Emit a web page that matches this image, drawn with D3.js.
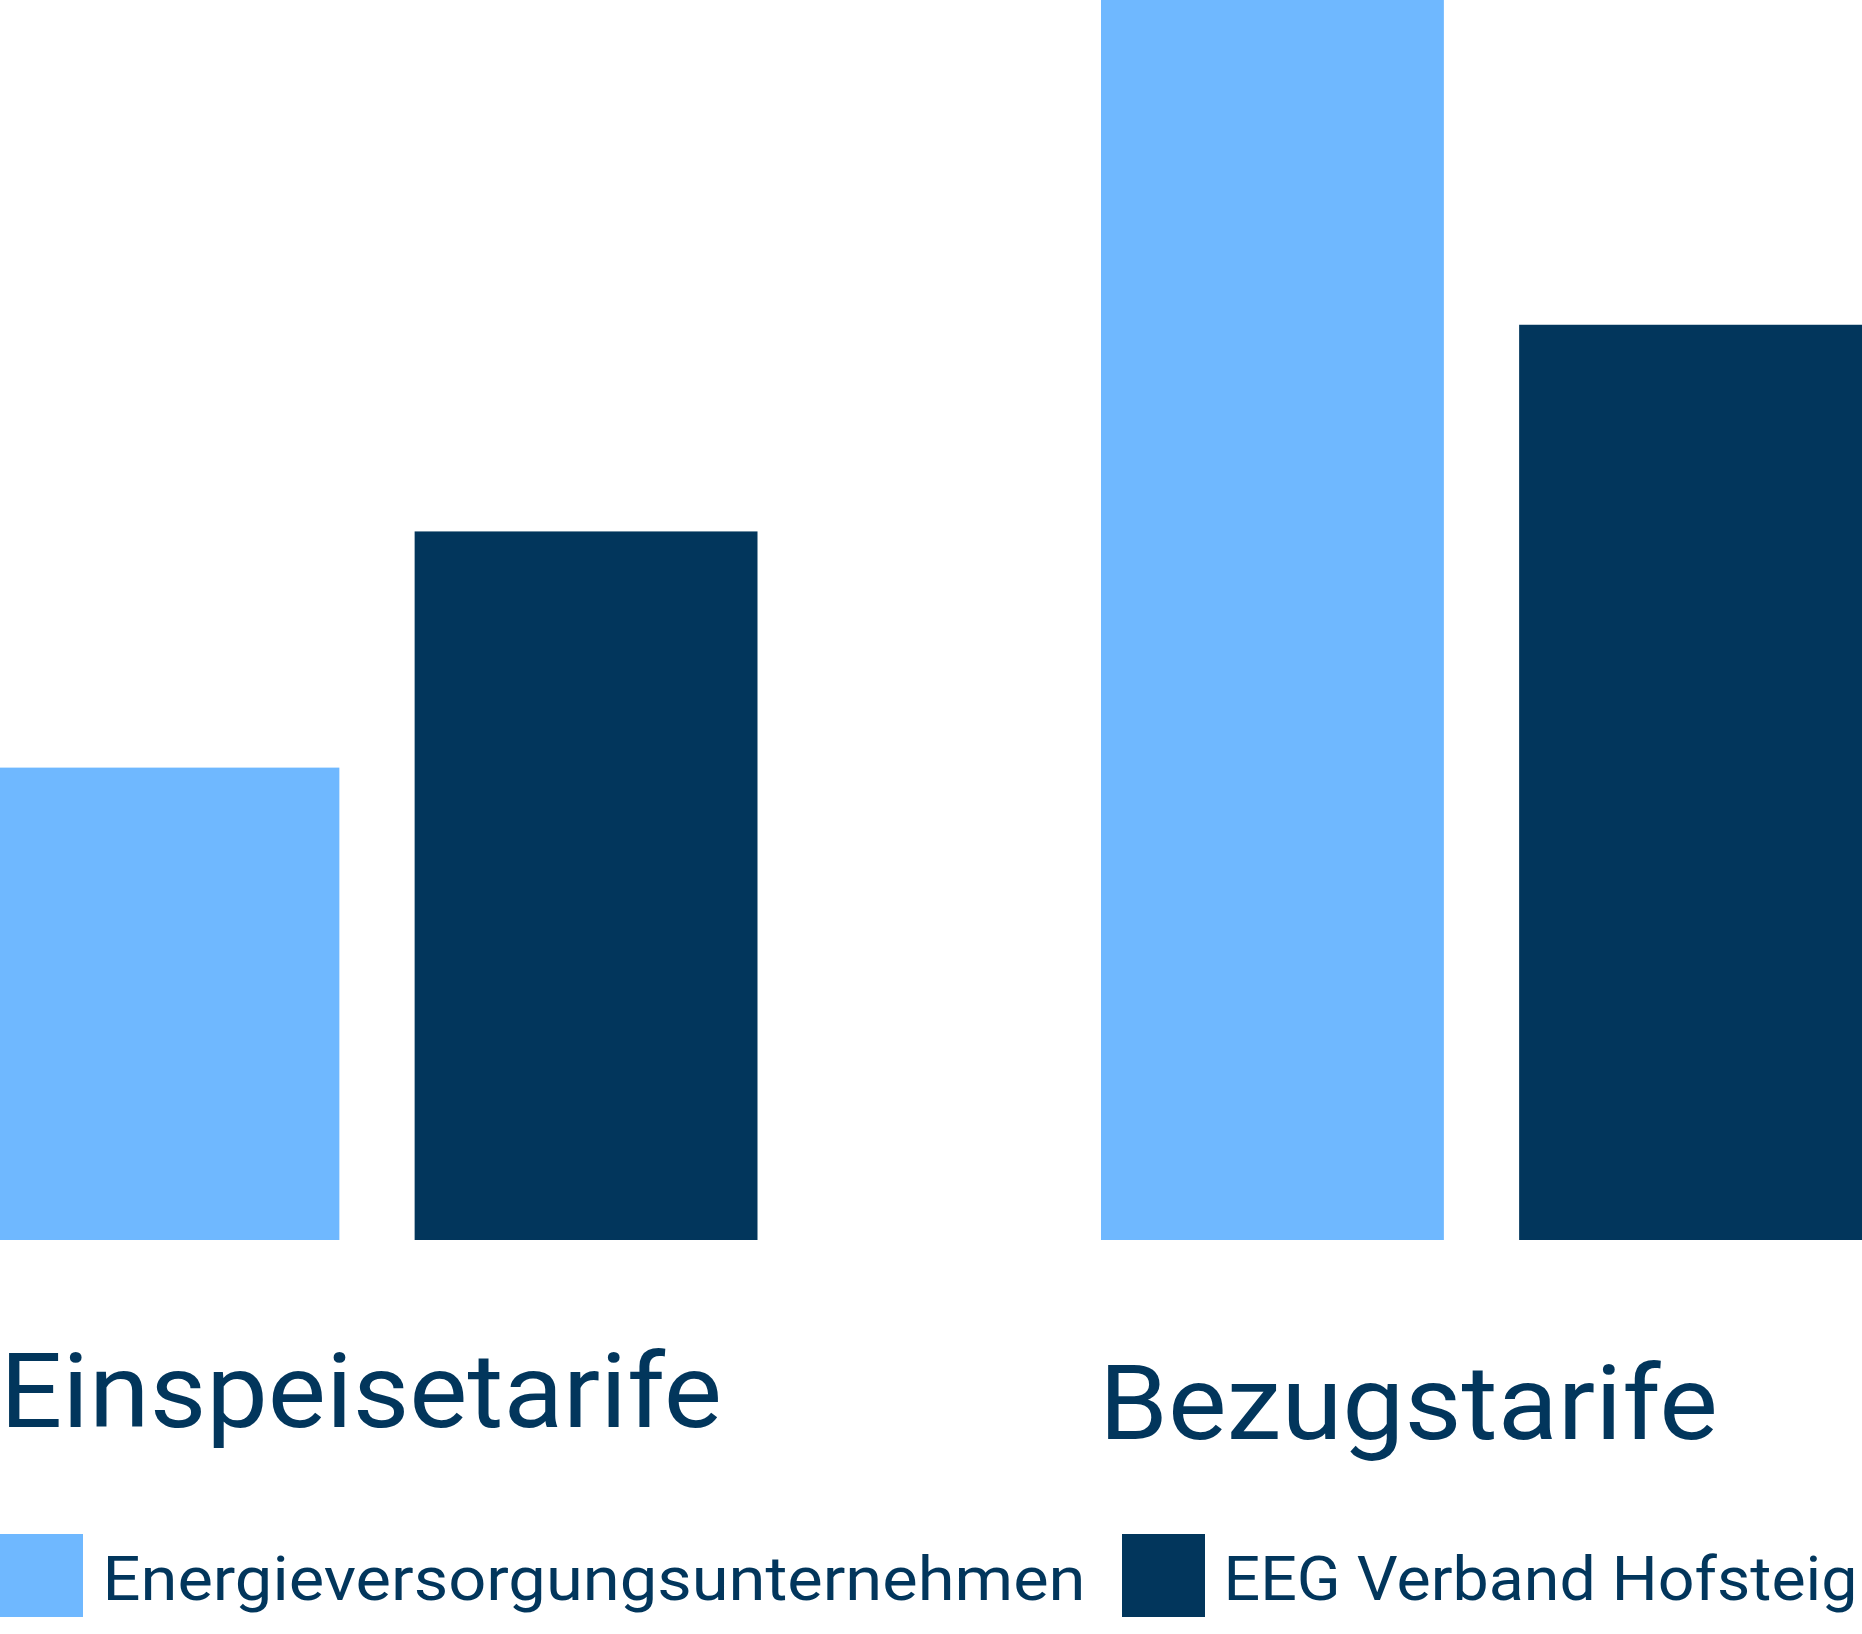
<!DOCTYPE html>
<html>
<head>
<meta charset="utf-8">
<script src="https://cdn.jsdelivr.net/npm/d3@7"></script>
<style>
    html, body { margin: 0; padding: 0; background: #fff; }
    svg { display: block; }
    text { font-family: Roboto, "Open Sans", sans-serif; fill: #02365c; }
</style>
</head>
<body>
<div id="chart"></div>
<script>
// data (ct/kWh)
const categories = [`Einspeisetarife`, `Bezugstarife`];
const seriesNames = [`Energieversorgungsunternehmen`, `EEG Verband Hofsteig`];
const evuValues = [8, 21];
const eegValues = [12, 15.5];
const maxValue = 21;

const colors = [`#6fb8ff`, `#02365c`];

const width = 1862, height = 1634;
const baseline = 1240;

const svg = d3.select(`#chart`).append(`svg`)
    .attr(`width`, width)
    .attr(`height`, height);

// the left bar bleeds a little past the edge in the original
const x0 = d3.scaleBand()
    .domain(categories)
    .range([-3.5, width])
    .paddingInner(0.311)
    .paddingOuter(0);

const x1 = d3.scaleBand()
    .domain(seriesNames)
    .range([0, x0.bandwidth()])
    .paddingInner(0.18)
    .paddingOuter(0);

const y = d3.scaleLinear()
    .domain([0, maxValue])
    .range([baseline, 0]);

const color = d3.scaleOrdinal().domain(seriesNames).range(colors);

const rows = categories.map((c, i) => ({
    category: c,
    values: [
        { name: seriesNames[0], value: evuValues[i] },
        { name: seriesNames[1], value: eegValues[i] }
    ]
}));

// bars
const groups = svg.selectAll(`.group`)
    .data(rows)
    .enter().append(`g`)
    .attr(`class`, `group`)
    .attr(`transform`, d => `translate(${x0(d.category)},0)`);

groups.selectAll(`rect`)
    .data(d => d.values)
    .enter().append(`rect`)
    .attr(`x`, d => x1(d.name))
    .attr(`y`, d => y(d.value))
    .attr(`width`, x1.bandwidth())
    .attr(`height`, d => baseline - y(d.value))
    .attr(`fill`, d => color(d.name));

// category labels (baselines differ slightly in the original)
const labelOffsets = [{ dx: 3.5, y: 1427, w: 722 }, { dx: -2, y: 1439, w: 619 }];
svg.selectAll(`.catLabel`)
    .data(categories)
    .enter().append(`text`)
    .attr(`class`, `catLabel`)
    .attr(`x`, (d, i) => x0(d) + labelOffsets[i].dx)
    .attr(`y`, (d, i) => labelOffsets[i].y)
    .attr(`font-size`, 103)
    .attr(`textLength`, (d, i) => labelOffsets[i].w)
    .attr(`lengthAdjust`, `spacingAndGlyphs`)
    .text(d => d);

// legend
const legendPos = [{ x: 0, w: 983 }, { x: 1122, w: 634 }];
const legend = svg.selectAll(`.legendItem`)
    .data(seriesNames)
    .enter().append(`g`)
    .attr(`class`, `legendItem`)
    .attr(`transform`, (d, i) => `translate(${legendPos[i].x},1534)`);

legend.append(`rect`)
    .attr(`width`, 83)
    .attr(`height`, 83)
    .attr(`fill`, d => color(d));

legend.append(`text`)
    .attr(`x`, (d, i) => i === 0 ? 102.5 : 101.5)
    .attr(`y`, 66)
    .attr(`font-size`, 62)
    .attr(`textLength`, (d, i) => legendPos[i].w)
    .attr(`lengthAdjust`, `spacingAndGlyphs`)
    .text(d => d);
</script>
</body>
</html>
